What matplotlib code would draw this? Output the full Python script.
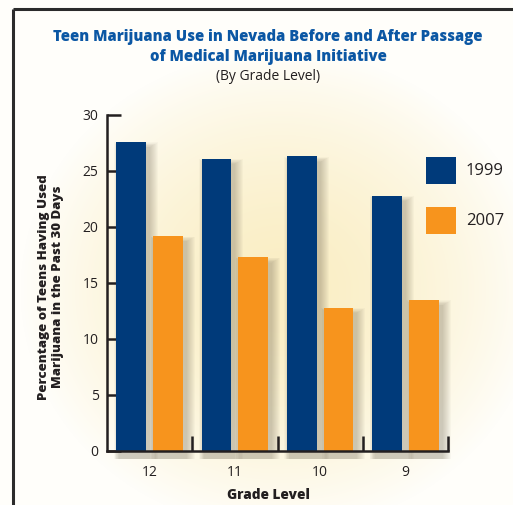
import numpy as np
import matplotlib
matplotlib.use("Agg")
import matplotlib.pyplot as plt
from matplotlib.patches import Rectangle
from matplotlib.lines import Line2D

# Data
grades = ["12", "11", "10", "9"]
series_names = ["1999", "2007"]
use_1999 = [27.6, 26.1, 26.3, 22.8]
use_2007 = [19.2, 17.3, 12.8, 13.5]
y_ticks = [0, 5, 10, 15, 20, 25, 30]

BLUE = "#003a7a"
ORANGE = "#f7941d"
TITLE_BLUE = "#0b57a4"
INK = "#231f20"
FONT = "Open Sans"

W, H = 513, 505
fig = plt.figure(figsize=(W / 100, H / 100), dpi=100)

# Cream radial glow background
bg = fig.add_axes([0, 0, 1, 1], zorder=-10)
yy, xx = np.mgrid[0:H, 0:W]
r = np.sqrt(((xx - 280) / 260.0) ** 2 + ((yy - 290) / 240.0) ** 2)
t = np.clip(r, 0, 1) ** 1.6
c0 = np.array([250, 238, 196]) / 255.0
c1 = np.array([255, 254, 250]) / 255.0
img = c0[None, None, :] * (1 - t[..., None]) + c1[None, None, :] * t[..., None]
bg.imshow(img, extent=[0, W, H, 0], aspect="auto")
bg.set_xlim(0, W)
bg.set_ylim(H, 0)
bg.axis("off")

# Frame lines (left and top)
fig.add_artist(Line2D([13 / W, 13 / W], [0, 1 - 9 / H], transform=fig.transFigure,
                      color="#2b2b2b", lw=2.2, solid_capstyle="butt"))
fig.add_artist(Line2D([13 / W, 1], [1 - 9 / H, 1 - 9 / H], transform=fig.transFigure,
                      color="#2b2b2b", lw=2.2, solid_capstyle="butt"))

# Plot area
ax = fig.add_axes([107 / W, 1 - 451 / H, (448 - 107) / W, (451 - 115) / H])
ax.patch.set_alpha(0)

x = np.arange(len(grades))
width = 0.35
offset = 0.215
PX_X = 4.0 / (448 - 107)   # data units per pixel, horizontal
PX_Y = 30.0 / (451 - 115)  # data units per pixel, vertical

def shadowed_bars(xpos, vals, color):
    # soft drop shadow falling to the right of each bar
    for xi, v in zip(xpos, vals):
        for k in range(9, 0, -1):
            left = xi - width / 2 + (3 - k * 0.6) * PX_X
            right = xi + width / 2 + (3 + k) * PX_X
            top = v - 6 * PX_Y + k * 0.6 * PX_Y
            ax.add_patch(Rectangle((left, -8 * PX_Y), right - left, top + 8 * PX_Y,
                                   facecolor="#5e5440", alpha=0.035,
                                   edgecolor="none", zorder=1, clip_on=False))
    ax.bar(xpos, vals, width=width, color=color, zorder=3, linewidth=0)

shadowed_bars(x - offset, use_1999, BLUE)
shadowed_bars(x + offset, use_2007, ORANGE)

ax.set_xlim(-0.5, 3.5)
ax.set_ylim(0, 30)

for s in ["top", "right"]:
    ax.spines[s].set_visible(False)
for s in ["left", "bottom"]:
    ax.spines[s].set_color(INK)
    ax.spines[s].set_linewidth(1.8)
    ax.spines[s].set_zorder(5)

ax.set_yticks(y_ticks)
ax.set_yticklabels([str(v) for v in y_ticks], fontfamily=FONT, fontsize=10, color=INK)
ax.tick_params(axis="y", direction="in", length=10, width=1.8, color=INK, pad=6)

ax.set_xticks(x)
ax.set_xticklabels(grades, fontfamily=FONT, fontsize=10, color=INK)
ax.tick_params(axis="x", which="major", length=0, pad=10)
ax.set_xticks(x + 0.5, minor=True)
ax.tick_params(axis="x", which="minor", direction="in", length=11, width=1.8, color=INK)

fig.text(268 / W, 1 - 495 / H, "Grade Level", ha="center", va="center",
         fontfamily=FONT, fontsize=9.8, fontweight="heavy", color=INK)
fig.text(51 / W, 1 - 287 / H, "Percentage of Teens Having Used\nMarijuana in the Past 30 Days",
         rotation=90, ha="center", va="center", fontfamily=FONT, fontsize=9.5,
         fontweight="heavy", color=INK, linespacing=1.3)

# Titles
fig.text(268 / W, 1 - 37 / H, "Teen Marijuana Use in Nevada Before and After Passage",
         ha="center", va="center", fontfamily=FONT, fontsize=10.7, fontweight="heavy",
         color=TITLE_BLUE)
fig.text(268 / W, 1 - 57 / H, "of Medical Marijuana Initiative",
         ha="center", va="center", fontfamily=FONT, fontsize=10.7, fontweight="heavy",
         color=TITLE_BLUE)
fig.text(268 / W, 1 - 77 / H, "(By Grade Level)", ha="center", va="center",
         fontfamily=FONT, fontsize=10, color=INK)

# Legend
for i, (name, col) in enumerate(zip(series_names, [BLUE, ORANGE])):
    ytop = 157 + i * 50
    fig.add_artist(Rectangle((426 / W, 1 - (ytop + 27) / H), 30 / W, 27 / H,
                             transform=fig.transFigure, facecolor=col,
                             edgecolor="none"))
    fig.text(466 / W, 1 - (ytop + 14) / H, name, ha="left", va="center",
             fontfamily=FONT, fontsize=12, color=INK)

fig.savefig("out.png", dpi=100)
